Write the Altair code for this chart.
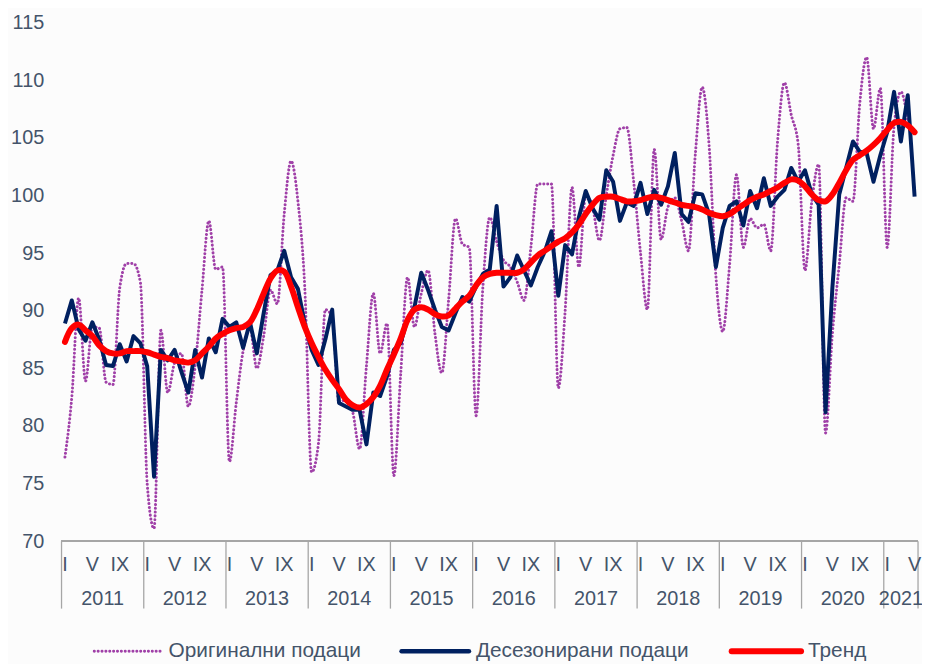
import altair as alt
import pandas as pd

# ---------------- data ----------------
years = list(range(2011, 2022))
month_ticks = {"I": 1, "V": 5, "IX": 9}
series_names = ["Оригинални подаци", "Десезонирани подаци", "Тренд"]

original = [
    77.3, 82.5, 91.1, 83.9, 88.6, 88.5, 83.8, 83.6, 92.0, 94.1, 94.1, 92.5,
    75.0, 71.1, 88.3, 82.9, 85.5, 86.3, 81.7, 85.2, 91.8, 97.8, 93.6, 93.8,
    76.9, 82.0, 86.5, 88.5, 85.0, 87.8, 91.8, 90.6, 98.4, 103.0, 99.5, 92.0,
    76.0, 78.5, 90.1, 89.5, 82.0, 82.3, 81.2, 78.0, 85.2, 91.5, 86.3, 88.9,
    75.7, 84.5, 92.9, 88.6, 91.5, 93.5, 88.0, 84.6, 91.0, 98.0, 95.8, 95.5,
    80.9, 92.1, 98.1, 96.0, 94.4, 93.8, 92.5, 90.9, 95.5, 101.0, 101.0, 101.0,
    83.3, 90.0, 100.7, 93.8, 100.0, 99.0, 96.1, 100.0, 103.5, 105.8, 105.9, 101.2,
    95.0, 90.1, 104.0, 96.2, 99.0, 99.8, 97.8, 95.2, 103.6, 109.4, 104.4, 93.0,
    88.2, 94.0, 101.8, 95.5, 98.0, 97.2, 97.5, 95.2, 104.7, 109.8, 107.0, 104.5,
    93.5, 99.5, 102.7, 79.4, 88.0, 94.0, 99.8, 99.5, 108.0, 112.0, 105.8, 109.3,
    95.5, 106.0, 109.0, 106.5,
]

deseasonal = [
    88.9, 90.9, 88.4, 87.4, 89.0, 87.5, 85.3, 85.2, 87.1, 85.6, 87.8, 87.2,
    85.2, 75.6, 86.6, 85.7, 86.6, 84.7, 82.9, 86.6, 84.2, 87.6, 86.4, 89.3,
    88.6, 89.0, 86.8, 89.0, 86.3, 89.8, 93.1, 93.5, 95.2, 92.9, 91.9, 88.9,
    86.6, 85.3, 87.5, 90.1, 82.0, 81.7, 81.4, 81.4, 78.4, 82.9, 82.6, 84.3,
    86.6, 87.2, 89.3, 90.3, 93.3, 91.8, 90.1, 88.6, 88.3, 89.8, 91.2, 90.8,
    92.1, 93.2, 93.6, 99.1, 92.1, 92.9, 94.8, 93.5, 92.2, 93.8, 95.1, 96.9,
    91.3, 95.7, 94.9, 98.1, 100.4, 98.9, 97.9, 102.2, 101.2, 97.8, 99.4, 99.1,
    101.1, 98.4, 100.5, 99.2, 100.8, 103.7, 98.4, 97.7, 100.2, 100.1, 98.4, 93.8,
    97.2, 99.1, 99.5, 97.4, 100.4, 98.9, 101.5, 99.1, 99.9, 100.5, 102.4, 101.2,
    102.2, 100.1, 99.2, 81.2, 92.0, 100.1, 102.4, 104.7, 103.8, 103.7, 101.2, 103.5,
    105.5, 109.0, 104.7, 108.7, 99.9,
]

trend = [
    87.3, 88.5, 88.8, 88.3, 87.8, 87.0, 86.5, 86.3, 86.3, 86.5, 86.5, 86.5,
    86.4, 86.2, 86.0, 85.9, 85.7, 85.6, 85.5, 85.7, 86.3, 86.9, 87.6, 88.0,
    88.3, 88.5, 88.6, 89.0, 90.1, 91.5, 92.8, 93.5, 93.4, 92.1, 90.3, 88.6,
    87.2, 86.0, 84.9, 84.0, 83.2, 82.3, 81.8, 81.6, 81.9, 82.5, 83.5, 84.9,
    86.2, 87.6, 89.2, 90.1, 90.3, 90.1, 89.7, 89.5, 89.6, 90.2, 90.8, 91.3,
    92.2, 92.9, 93.2, 93.3, 93.3, 93.3, 93.3, 93.6, 94.2, 94.8, 95.2, 95.6,
    96.0, 96.3, 96.8, 97.5, 98.4, 99.2, 99.8, 99.9, 99.9, 99.7, 99.5, 99.5,
    99.6, 99.8, 99.9, 99.8, 99.6, 99.4, 99.2, 99.1, 99.0, 98.8, 98.5, 98.3,
    98.2, 98.4, 98.8, 99.2, 99.6, 99.9, 100.1, 100.4, 100.7, 101.1, 101.4, 101.3,
    100.8, 100.1, 99.6, 99.5, 100.1, 101.1, 102.2, 103.1, 103.5, 103.9, 104.4, 105.0,
    105.7, 106.3, 106.4, 106.1, 105.5,
]

# ---------------- styling ----------------
FONT = "Liberation Sans"
TXT = "#44546A"
GRID = "#A6A6A6"
PURPLE = "#A040A8"
NAVY = "#002060"
RED = "#FF0000"
W, H = 864, 523
N = len(deseasonal)

df_o = pd.DataFrame({"idx": range(len(original)), "value": original})
df_d = pd.DataFrame({"idx": range(len(deseasonal)), "value": deseasonal})
df_t = pd.DataFrame({"idx": range(len(trend)), "value": trend})

xscale = alt.Scale(domain=[-0.5, N - 0.5], nice=False, zero=False)
yscale = alt.Scale(domain=[70, 115], nice=False, zero=False)

X = alt.X("idx:Q", scale=xscale, axis=None)
Y = alt.Y(
    "value:Q",
    scale=yscale,
    axis=alt.Axis(
        values=list(range(70, 116, 5)), grid=False, domain=False, ticks=False,
        labelFontSize=20, labelColor=TXT, labelFont=FONT, labelPadding=18, title=None,
    ),
)

DOT = dict(strokeWidth=3, strokeDash=[0.1, 3.8], strokeCap="round")

orig_line = alt.Chart(df_o).mark_line(
    color=PURPLE, interpolate="monotone", **DOT
).encode(x=X, y=Y)

des_line = alt.Chart(df_d).mark_line(
    color=NAVY, strokeWidth=4, strokeJoin="round",
).encode(x=X, y=Y)

trend_line = alt.Chart(df_t).mark_line(
    color=RED, strokeWidth=6, strokeCap="round", interpolate="catmull-rom",
).encode(x=X, y=Y)

# category axis: month labels, year labels, separators
mrows = []
for yi, yr in enumerate(years):
    for lab, m in month_ticks.items():
        idx = yi * 12 + (m - 1)
        if idx < N:
            mrows.append({"idx": idx, "label": lab})
df_m = pd.DataFrame(mrows)

yrows = []
for yi, yr in enumerate(years):
    start = yi * 12 - 0.5
    end = min(yi * 12 + 11.5, N - 0.5)
    yrows.append({"idx": (start + end) / 2, "label": str(yr)})
df_y = pd.DataFrame(yrows)

seps = [yi * 12 - 0.5 for yi in range(len(years))] + [N - 0.5]
df_s = pd.DataFrame({"idx": seps})

xs = alt.X("idx:Q", scale=xscale, axis=None)

month_text = alt.Chart(df_m).mark_text(
    fontSize=20, font=FONT, color=TXT, baseline="middle", align="center",
).encode(x=xs, y=alt.value(H + 24), text="label:N")

year_text = alt.Chart(df_y).mark_text(
    fontSize=20, font=FONT, color=TXT, baseline="middle", align="center",
).encode(x=xs, y=alt.value(H + 58), text="label:N")

sep_rules = alt.Chart(df_s).mark_rule(color=GRID, strokeWidth=1.3).encode(
    x=xs, y=alt.value(H), y2=alt.value(H + 68)
)

axis_line = alt.Chart(df_s).mark_rule(color=GRID, strokeWidth=1.3).encode(
    x=alt.value(0), x2=alt.value(W), y=alt.value(H)
)

# manual legend
leg = pd.DataFrame({
    "name": series_names,
    "x0": [33, 343, 676],
    "x1": [100, 411, 746],
    "tx": [108, 418, 753],
})
LY = H + 111
leg_o = alt.Chart(leg.iloc[[0]]).mark_rule(
    color=PURPLE, **DOT
).encode(x=alt.X("x0:Q", scale=None), x2="x1:Q", y=alt.value(LY))
leg_d = alt.Chart(leg.iloc[[1]]).mark_rule(
    color=NAVY, strokeWidth=4.5, strokeCap="round"
).encode(x=alt.X("x0:Q", scale=None), x2="x1:Q", y=alt.value(LY))
leg_t = alt.Chart(leg.iloc[[2]]).mark_rule(
    color=RED, strokeWidth=6, strokeCap="round"
).encode(x=alt.X("x0:Q", scale=None), x2="x1:Q", y=alt.value(LY))
leg_txt = alt.Chart(leg).mark_text(
    fontSize=21, font=FONT, color=TXT, align="left", baseline="middle"
).encode(x=alt.X("tx:Q", scale=None), y=alt.value(LY), text="name:N")

chart = alt.layer(
    axis_line, sep_rules, month_text, year_text,
    orig_line, des_line, trend_line,
    leg_o, leg_d, leg_t, leg_txt,
).properties(
    width=W, height=H,
    autosize=alt.AutoSizeParams(type="none"),
    padding={"left": 54, "top": 12, "right": 4, "bottom": 121},
    background="#FCFCFC",
).configure_view(stroke=None)

chart.save("out.html", embed_options={"renderer": "svg", "actions": False})
